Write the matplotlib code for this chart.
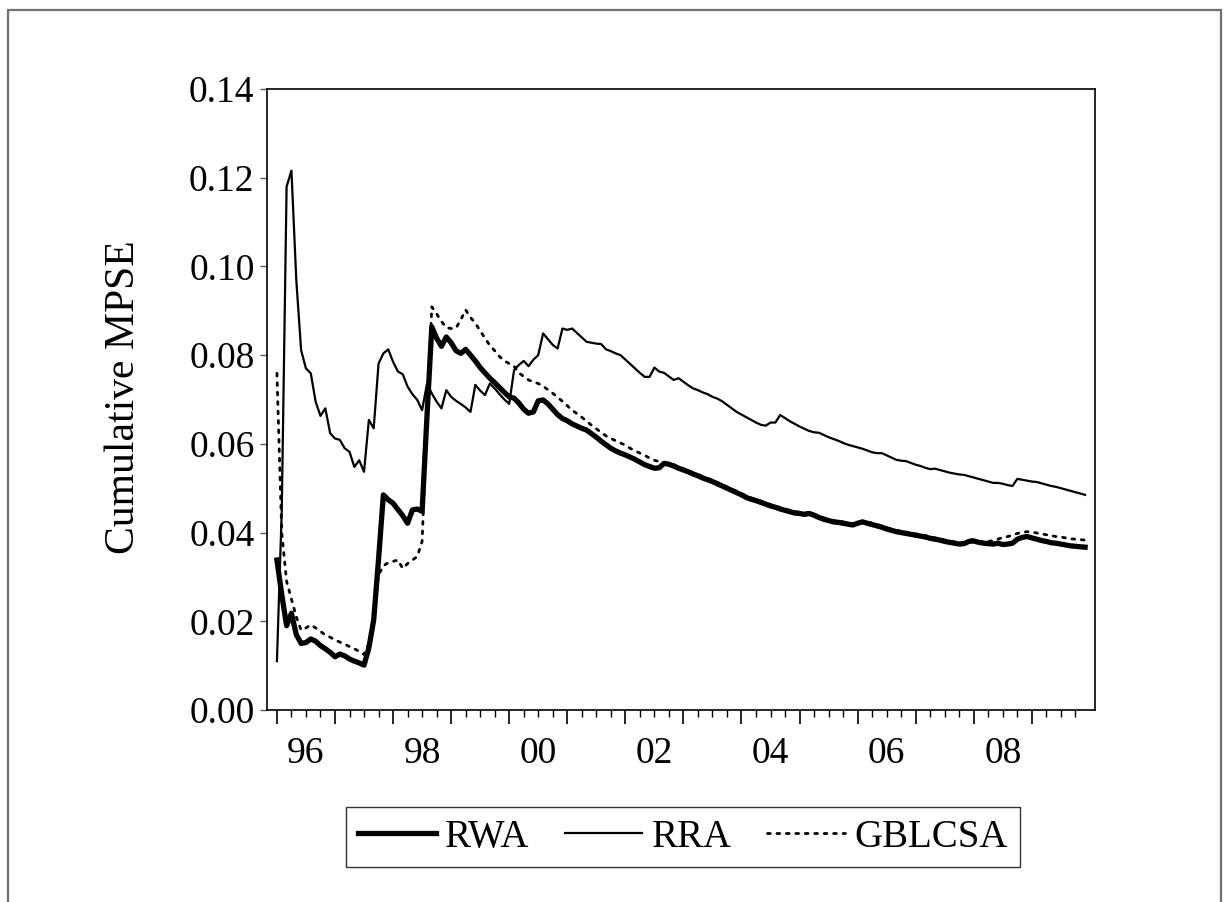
import numpy as np
import matplotlib
matplotlib.use("Agg")
import matplotlib.pyplot as plt
from matplotlib.lines import Line2D
from matplotlib.patches import Rectangle

# monthly cumulative MPSE, 1996:01 - 2009:12
start_year = 1996
rwa = [
    0.0338, 0.0260, 0.0190, 0.0218, 0.0170, 0.0150, 0.0152, 0.0160, 0.0155, 0.0145, 0.0138, 0.0130,
    0.0120, 0.0126, 0.0122, 0.0115, 0.0110, 0.0106, 0.0101, 0.0140, 0.0203, 0.0340, 0.0485, 0.0474,
    0.0466, 0.0452, 0.0438, 0.0421, 0.0451, 0.0453, 0.0448, 0.0660, 0.0864, 0.0838, 0.0820, 0.0841,
    0.0828, 0.0810, 0.0804, 0.0813, 0.0800, 0.0787, 0.0772, 0.0760, 0.0748, 0.0738, 0.0727, 0.0716,
    0.0706, 0.0703, 0.0692, 0.0678, 0.0669, 0.0672, 0.0697, 0.0699, 0.0690, 0.0678, 0.0666, 0.0657,
    0.0652, 0.0645, 0.0640, 0.0635, 0.0631, 0.0623, 0.0615, 0.0606, 0.0598, 0.0590, 0.0584, 0.0579,
    0.0575, 0.0570, 0.0565, 0.0559, 0.0553, 0.0549, 0.0545, 0.0546, 0.0556, 0.0554, 0.0550, 0.0545,
    0.0541, 0.0537, 0.0532, 0.0528, 0.0523, 0.0519, 0.0515, 0.0510, 0.0505, 0.0500, 0.0495, 0.0490,
    0.0485, 0.0479, 0.0475, 0.0472, 0.0468, 0.0464, 0.0460, 0.0457, 0.0453, 0.0450, 0.0447, 0.0444,
    0.0443, 0.0441, 0.0443, 0.0439, 0.0434, 0.0430, 0.0427, 0.0424, 0.0423, 0.0421, 0.0419, 0.0417,
    0.0421, 0.0424, 0.0421, 0.0418, 0.0415, 0.0412, 0.0408, 0.0405, 0.0402, 0.0400, 0.0398, 0.0396,
    0.0394, 0.0392, 0.0390, 0.0387, 0.0385, 0.0383, 0.0380, 0.0378, 0.0376, 0.0374, 0.0375, 0.0380,
    0.0381, 0.0378, 0.0376, 0.0375, 0.0374, 0.0376, 0.0373, 0.0374, 0.0376, 0.0385, 0.0389, 0.0391,
    0.0388, 0.0385, 0.0382, 0.0380, 0.0377, 0.0376, 0.0374, 0.0372, 0.0370, 0.0369, 0.0368, 0.0367,
]
rra = [
    0.0110, 0.0450, 0.1180, 0.1216, 0.0970, 0.0811, 0.0770, 0.0759, 0.0695, 0.0663, 0.0680, 0.0624,
    0.0612, 0.0609, 0.0590, 0.0582, 0.0548, 0.0563, 0.0537, 0.0654, 0.0635, 0.0781, 0.0804, 0.0813,
    0.0785, 0.0763, 0.0757, 0.0729, 0.0712, 0.0699, 0.0676, 0.0735, 0.0714, 0.0695, 0.0680, 0.0721,
    0.0706, 0.0697, 0.0690, 0.0682, 0.0672, 0.0733, 0.0720, 0.0710, 0.0736, 0.0725, 0.0712, 0.0700,
    0.0690, 0.0766, 0.0778, 0.0787, 0.0775, 0.0790, 0.0800, 0.0849, 0.0836, 0.0823, 0.0815, 0.0860,
    0.0857, 0.0860, 0.0850, 0.0840, 0.0830, 0.0828, 0.0826, 0.0825, 0.0813, 0.0809, 0.0804, 0.0800,
    0.0790, 0.0780, 0.0770, 0.0760, 0.0751, 0.0751, 0.0772, 0.0763, 0.0760, 0.0752, 0.0744, 0.0748,
    0.0740, 0.0732, 0.0725, 0.0721, 0.0716, 0.0712, 0.0706, 0.0702, 0.0696, 0.0688, 0.0680, 0.0672,
    0.0666, 0.0660, 0.0654, 0.0648, 0.0643, 0.0641, 0.0648, 0.0648, 0.0665, 0.0658, 0.0651, 0.0645,
    0.0639, 0.0634, 0.0629, 0.0626, 0.0625, 0.0620, 0.0615, 0.0611, 0.0607, 0.0602, 0.0598, 0.0595,
    0.0592, 0.0589, 0.0585, 0.0581, 0.0579, 0.0579, 0.0574, 0.0569, 0.0564, 0.0562, 0.0561, 0.0557,
    0.0553, 0.0550, 0.0546, 0.0543, 0.0544, 0.0541, 0.0538, 0.0535, 0.0533, 0.0531, 0.0530, 0.0527,
    0.0524, 0.0521, 0.0518, 0.0515, 0.0512, 0.0512, 0.0510, 0.0507, 0.0505, 0.0521, 0.0519, 0.0517,
    0.0515, 0.0514, 0.0511, 0.0508, 0.0505, 0.0503, 0.0500, 0.0497, 0.0494, 0.0491, 0.0488, 0.0485,
]
gblcsa = [
    0.0759, 0.0400, 0.0290, 0.0250, 0.0210, 0.0180, 0.0185, 0.0192, 0.0185, 0.0177, 0.0169, 0.0164,
    0.0158, 0.0153, 0.0148, 0.0143, 0.0138, 0.0132, 0.0125, 0.0150, 0.0210, 0.0305, 0.0325, 0.0332,
    0.0335, 0.0338, 0.0319, 0.0330, 0.0338, 0.0346, 0.0380, 0.0650, 0.0909, 0.0893, 0.0876, 0.0862,
    0.0860, 0.0861, 0.0880, 0.0902, 0.0885, 0.0872, 0.0855, 0.0838, 0.0822, 0.0810, 0.0797, 0.0787,
    0.0781, 0.0775, 0.0760, 0.0752, 0.0744, 0.0740, 0.0736, 0.0730, 0.0722, 0.0714, 0.0705, 0.0696,
    0.0686, 0.0676, 0.0668, 0.0660, 0.0651, 0.0642, 0.0634, 0.0626, 0.0618, 0.0612, 0.0607, 0.0602,
    0.0597, 0.0590, 0.0584, 0.0579, 0.0574, 0.0568, 0.0563, 0.0560, 0.0558, 0.0557, 0.0553, 0.0548,
    0.0544, 0.0540, 0.0535, 0.0531, 0.0526, 0.0522, 0.0518, 0.0513, 0.0508, 0.0503, 0.0498, 0.0493,
    0.0488, 0.0482, 0.0478, 0.0475, 0.0471, 0.0467, 0.0463, 0.0460, 0.0456, 0.0453, 0.0450, 0.0447,
    0.0446, 0.0444, 0.0445, 0.0442, 0.0437, 0.0433, 0.0430, 0.0427, 0.0426, 0.0424, 0.0422, 0.0420,
    0.0423, 0.0426, 0.0424, 0.0421, 0.0418, 0.0415, 0.0411, 0.0408, 0.0405, 0.0403, 0.0401, 0.0399,
    0.0397, 0.0395, 0.0393, 0.0390, 0.0388, 0.0386, 0.0383, 0.0381, 0.0379, 0.0377, 0.0378, 0.0383,
    0.0384, 0.0381, 0.0379, 0.0380, 0.0382, 0.0385, 0.0389, 0.0391, 0.0394, 0.0398, 0.0400, 0.0402,
    0.0401, 0.0399, 0.0397, 0.0395, 0.0393, 0.0391, 0.0390, 0.0388, 0.0386, 0.0385, 0.0384, 0.0383,
]
series_names = ["RWA", "RRA", "GBLCSA"]
year_labels = ["96", "98", "00", "02", "04", "06", "08"]
yticks = [0.00, 0.02, 0.04, 0.06, 0.08, 0.10, 0.12, 0.14]

assert len(rwa) == len(rra) == len(gblcsa) == 168

plt.rcParams["font.family"] = ["Liberation Serif", "DejaVu Serif"]

t = start_year + np.arange(len(rwa)) / 12.0

fig = plt.figure(figsize=(12.25, 9.02), dpi=100)
ax = fig.add_axes([0.218, 0.2129, 0.676, 0.6884])

dotted = (0, (1.0, 2.4))
ax.plot(t, rwa, color="black", lw=3.8, solid_joinstyle="round", label=series_names[0])
ax.plot(t, rra, color="black", lw=1.6, label=series_names[1])
ax.plot(t, gblcsa, color="black", lw=2.0, linestyle=dotted,
        dash_capstyle="round", label=series_names[2])

ax.set_ylim(0, 0.14)
ax.set_xlim(start_year - 0.17, 2010.09)
ax.set_yticks(yticks)
ax.set_yticklabels([f"{v:.2f}" for v in yticks])

years = np.arange(1996, 2010)
quarters = np.arange(1996, 2010, 0.25)
ax.set_xticks(years)
ax.set_xticks(quarters, minor=True)
ax.tick_params(axis="x", which="major", length=10, width=1.2, direction="out",
               labelbottom=False)
ax.tick_params(axis="x", which="minor", length=5, width=1.0, direction="out")
ax.tick_params(axis="y", length=5, width=1.0, direction="out", color="#555555",
               labelsize=27, pad=4)
for s in ax.spines.values():
    s.set_linewidth(1.2)

# year labels sit in the middle of each year
label_pos = [(1900 if int(y) > 50 else 2000) + int(y) + 0.5 for y in year_labels]
sec = ax.secondary_xaxis("bottom")
sec.set_xticks(label_pos, year_labels)
sec.tick_params(length=0, labelsize=27, pad=19)
sec.spines["bottom"].set_visible(False)

fig.text(124 / 1225, 1 - 397 / 902, "Cumulative MPSE", rotation=90,
         ha="center", va="center", fontsize=30)

handles = [
    Line2D([], [], color="black", lw=3.8),
    Line2D([], [], color="black", lw=1.6),
    Line2D([], [], color="black", lw=2.0, linestyle=dotted, dash_capstyle="round"),
]
leg = fig.legend(handles, series_names, loc="center", bbox_to_anchor=(0.5575, 0.072),
                 ncol=3, fontsize=28, frameon=True, fancybox=False, handlelength=2.0,
                 handletextpad=0.25, columnspacing=0.9, borderpad=0.3, borderaxespad=0)
leg.get_frame().set_edgecolor("black")
leg.get_frame().set_linewidth(1.0)

# outer page frame
fig.patches.append(Rectangle((8 / 1225, -0.05), 1213 / 1225, 1 - 10 / 902 + 0.05,
                             transform=fig.transFigure, fill=False,
                             edgecolor="#707070", lw=1.6, zorder=0))

fig.savefig("out.png", dpi=100)
